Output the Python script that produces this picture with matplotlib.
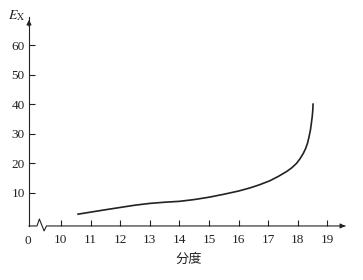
import numpy as np
import matplotlib.pyplot as plt

plt.rcParams['font.family'] = ['Liberation Serif', 'Noto Sans CJK SC']
plt.rcParams['mathtext.fontset'] = 'stix'

# curve
fen_du = [10.55, 11.1, 11.6, 12.05, 12.5, 13.0, 13.5, 14.0, 14.5, 15.0, 15.5, 16.0,
          16.4, 16.7, 17.06, 17.35, 17.62, 17.8, 17.96, 18.08, 18.19, 18.27, 18.33,
          18.38, 18.43, 18.46, 18.49, 18.51, 18.52]
e_x = [2.6, 3.5, 4.3, 5.0, 5.7, 6.3, 6.7, 7.0, 7.6, 8.4, 9.4, 10.5,
       11.6, 12.6, 14.0, 15.5, 17.1, 18.4, 19.9, 21.5, 23.3, 25.0, 26.7,
       28.8, 31.2, 33.4, 35.7, 38.0, 40.3]

xticks = [10, 11, 12, 13, 14, 15, 16, 17, 18, 19]
yticks = [10, 20, 30, 40, 50, 60]

x0, x1 = 8.92, 19.7
y0, y1 = -1.36, 69.6
ink = '#222222'

fig = plt.figure(figsize=(3.63, 2.80), dpi=100)
ax = fig.add_axes([0.0799, 0.193, 0.8788, 0.746])
ax.set_xlim(x0, x1)
ax.set_ylim(y0, y1)

ax.plot(fen_du, e_x, color=ink, lw=1.2, solid_capstyle='butt', solid_joinstyle='round')

# axes: left spine + hand drawn bottom line with a break
for s in ['top', 'right', 'bottom']:
    ax.spines[s].set_visible(False)
ax.spines['left'].set_color(ink)
ax.spines['left'].set_linewidth(0.8)
ax.spines['left'].set_position(('data', x0))

brk_x = [x0, 9.19, 9.27, 9.43, 9.51, x1 - 0.1]
brk_y = [y0, y0, 1.0, -3.05, y0, y0]
ax.plot(brk_x, brk_y, color=ink, lw=0.8, clip_on=False)

# arrow heads
ax.annotate('', xy=(x1, y0), xytext=(x1 - 0.3, y0),
            arrowprops=dict(arrowstyle='-|>', color=ink, lw=0.8, mutation_scale=7),
            annotation_clip=False)
ax.annotate('', xy=(x0, y1), xytext=(x0, y1 - 4),
            arrowprops=dict(arrowstyle='-|>', color=ink, lw=0.8, mutation_scale=7),
            annotation_clip=False)

ax.set_yticks(yticks)
ax.set_yticklabels([str(v) for v in yticks])
ax.set_xticks(xticks)
ax.set_xticklabels([str(v) for v in xticks])
ax.tick_params(axis='both', direction='in', length=4, width=0.8, colors=ink,
               labelsize=9.5, labelcolor=ink)
ax.tick_params(axis='x', pad=6)
ax.tick_params(axis='y', pad=3)

ax.text(x0 - 0.05, y0 - 3.2, '0', ha='center', va='top', fontsize=9.5, color=ink)
ax.text(x0 - 0.12, y1 + 0.5, r'$E_{\mathrm{X}}$', ha='right', va='center', fontsize=10, color=ink)
ax.set_xlabel('分度', family=['Noto Sans CJK SC'], fontsize=9.5, color=ink, labelpad=5)

fig.savefig('out.png', dpi=100)
